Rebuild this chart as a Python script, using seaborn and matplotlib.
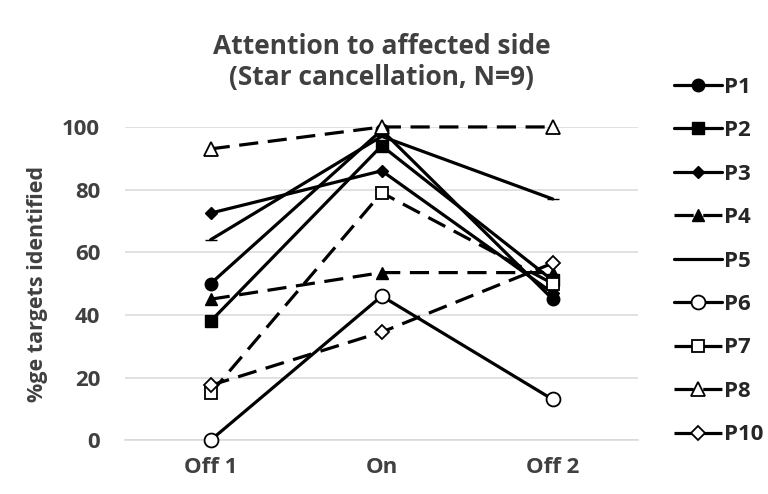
import matplotlib
matplotlib.use("Agg")
import matplotlib.pyplot as plt
import seaborn as sns

sessions = ["Off 1", "On", "Off 2"]

p1 = [50, 99, 45]
p2 = [38, 94, 51]
p3 = [72.5, 86, 47]
p4 = [45, 53.5, 53.5]
p5 = [64, 97, 77]
p6 = [0, 46, 13]
p7 = [15, 79, 50]
p8 = [93, 100, 100]
p10 = [17.5, 34.5, 56.5]

participants = ["P1", "P2", "P3", "P4", "P5", "P6", "P7", "P8", "P10"]
series = [p1, p2, p3, p4, p5, p6, p7, p8, p10]

# marker, size, filled, dashed
styles = {
    "P1": ("o", 9, True, False),
    "P2": ("s", 9, True, False),
    "P3": ("D", 6, True, False),
    "P4": ("^", 8, True, True),
    "P5": ("_", 8, True, False),
    "P6": ("o", 10, False, False),
    "P7": ("s", 9, False, True),
    "P8": ("^", 10, False, True),
    "P10": ("D", 7.5, False, True),
}

sns.set_style("white")
plt.rcParams["font.family"] = ["Open Sans", "DejaVu Sans"]
txt = "#404040"

fig = plt.figure(figsize=(7.68, 4.94), dpi=100)
ax = fig.add_axes([0.163, 0.109, 0.668, 0.634])

for name, vals in zip(participants, series):
    mk, ms, filled, dashed = styles[name]
    sns.lineplot(
        x=sessions, y=vals, ax=ax, sort=False, color="black", label=name,
        marker=mk, markersize=ms, markeredgewidth=1.3 if not filled else 1,
        markerfacecolor="black" if filled else "white", markeredgecolor="black",
        linewidth=2.3, linestyle=(0, (6, 3)) if dashed else "-",
        clip_on=False, zorder=3,
    )

ax.set_ylim(0, 100)
ax.set_xlim(-0.5, 2.5)
ax.set_yticks([0, 20, 40, 60, 80, 100])
ax.yaxis.grid(True, color="#d9d9d9", linewidth=1.1)
ax.set_axisbelow(True)
for s in ["top", "right", "left"]:
    ax.spines[s].set_visible(False)
ax.spines["bottom"].set_color("#d9d9d9")
ax.spines["bottom"].set_linewidth(1.1)
ax.tick_params(length=0, labelsize=16, labelcolor=txt)
ax.tick_params(axis="x", pad=12)
ax.tick_params(axis="y", pad=18)
for lab in ax.get_xticklabels() + ax.get_yticklabels():
    lab.set_fontweight("bold")
ax.set_xlabel("")
ax.set_ylabel("%ge targets identified", fontsize=15.5, fontweight="bold",
              color=txt, labelpad=10)

ax.set_title("Attention to affected side\n(Star cancellation, N=9)",
             fontsize=19, fontweight="bold", color=txt, pad=30,
             linespacing=1.2)

handles, labels = ax.get_legend_handles_labels()
ax.get_legend().remove()
fig.legend(handles, labels, loc="upper left", bbox_to_anchor=(0.852, 0.885),
           frameon=False, handlelength=2.15, handletextpad=0.1,
           labelspacing=1.01, prop={"weight": "bold", "size": 16})

fig.savefig("out.png", dpi=100, facecolor="white")
